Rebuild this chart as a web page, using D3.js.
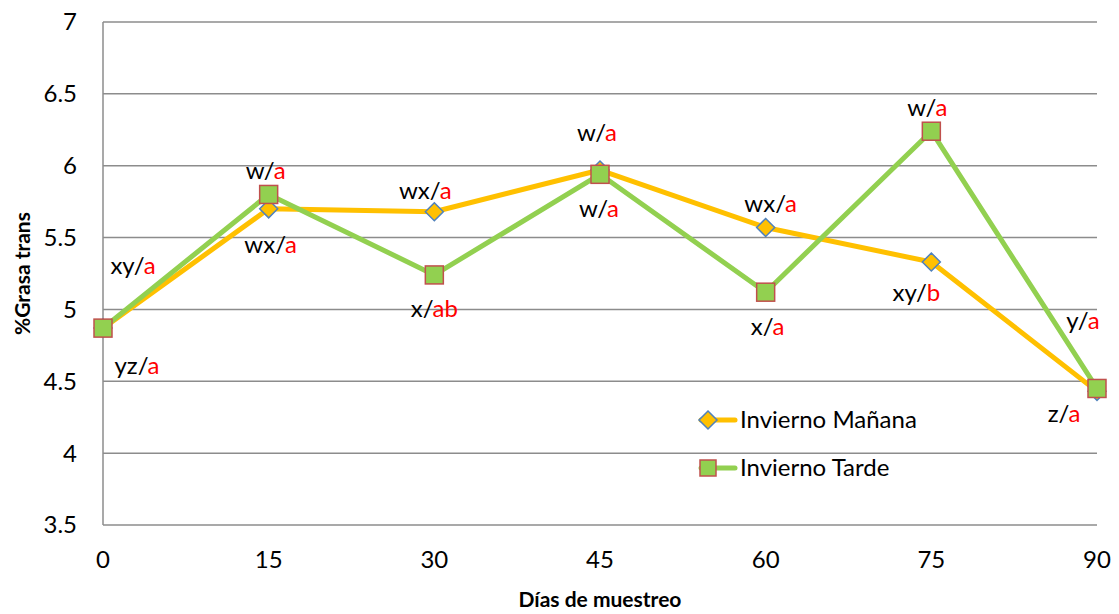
<!DOCTYPE html>
<html>
<head>
<meta charset="utf-8">
<title>Grasa trans</title>
<script src="https://cdnjs.cloudflare.com/ajax/libs/d3/7.8.5/d3.min.js"></script>
<style>
  body { margin: 0; background: #fff; }
  text { font-family: Lato, "Open Sans", sans-serif; }
</style>
</head>
<body>
<script>
// data
var days = [0, 15, 30, 45, 60, 75, 90];
var manana = [4.87, 5.70, 5.68, 5.97, 5.57, 5.33, 4.43];
var tarde = [4.87, 5.80, 5.24, 5.94, 5.12, 6.24, 4.45];
var yTicks = [3.5, 4, 4.5, 5, 5.5, 6, 6.5, 7];
var seriesNames = ["Invierno Mañana", "Invierno Tarde"];

// letters: [black part, red part]
var mananaLabels = [["xy/", "a"], ["wx/", "a"], ["wx/", "a"], ["w/", "a"], ["wx/", "a"], ["xy/", "b"], ["z/", "a"]];
var tardeLabels = [["yz/", "a"], ["w/", "a"], ["x/", "ab"], ["w/", "a"], ["x/", "a"], ["w/", "a"], ["y/", "a"]];
// nudges of each label from its point
var mananaNudge = [[30, -63], [2, 36], [-9, -21], [-3, -37], [5, -24], [-15, 31], [-33, 22]];
var tardeNudge = [[34, 37], [-3, -24], [0, 34], [-1, 34], [2, 34], [-4, -24], [-14, -68]];

var W = 1119, H = 614;
var plotL = 103, plotR = 1097, plotT = 22, plotB = 525;
var fs = 24;

var svg = d3.select("body").append("svg").attr("width", W).attr("height", H);

var x = d3.scaleLinear().domain([0, 90]).range([plotL, plotR]);
var y = d3.scaleLinear().domain([3.5, 7]).range([plotB, plotT]);

// gridlines
svg.append("g").selectAll("line").data(yTicks).enter().append("line")
  .attr("x1", plotL).attr("x2", plotR)
  .attr("y1", function(d) { return y(d); }).attr("y2", function(d) { return y(d); })
  .attr("stroke", "#8c8c8c").attr("stroke-width", 1.5);

svg.append("line").attr("x1", plotL).attr("x2", plotL).attr("y1", plotT).attr("y2", plotB)
  .attr("stroke", "#8c8c8c").attr("stroke-width", 1.5);

// tick labels
svg.append("g").selectAll("text").data(yTicks).enter().append("text")
  .attr("x", 77).attr("y", function(d) { return y(d); })
  .attr("dy", "0.35em").attr("text-anchor", "end")
  .attr("font-size", fs).attr("fill", "#000")
  .text(function(d) { return d; });

svg.append("g").selectAll("text").data(days).enter().append("text")
  .attr("x", function(d) { return x(d); }).attr("y", 568)
  .attr("text-anchor", "middle").attr("font-size", fs).attr("fill", "#000")
  .text(function(d) { return d; });

// axis titles
svg.append("text").attr("transform", "translate(30," + ((plotT + plotB) / 2) + ") rotate(-90)")
  .attr("text-anchor", "middle").attr("font-size", 21).attr("font-weight", "bold")
  .text("%Grasa trans");
svg.append("text").attr("x", 600).attr("y", 607)
  .attr("text-anchor", "middle").attr("font-size", 21).attr("font-weight", "bold")
  .text("Días de muestreo");

var line = d3.line()
  .x(function(d, i) { return x(days[i]); })
  .y(function(d) { return y(d); });

var orange = "#FFC000", green = "#92D050";

svg.append("path").datum(manana).attr("d", line)
  .attr("fill", "none").attr("stroke", orange).attr("stroke-width", 5).attr("stroke-linejoin", "round");
svg.append("path").datum(tarde).attr("d", line)
  .attr("fill", "none").attr("stroke", green).attr("stroke-width", 5).attr("stroke-linejoin", "round");

var diamond = "M0,-9L9,0L0,9L-9,0Z";

svg.append("g").selectAll("path").data(manana).enter().append("path")
  .attr("d", diamond)
  .attr("transform", function(d, i) { return "translate(" + x(days[i]) + "," + y(d) + ")"; })
  .attr("fill", orange).attr("stroke", "#4F81BD").attr("stroke-width", 1.5);

svg.append("g").selectAll("rect").data(tarde).enter().append("rect")
  .attr("x", function(d, i) { return x(days[i]) - 9; })
  .attr("y", function(d) { return y(d) - 9; })
  .attr("width", 18).attr("height", 18)
  .attr("fill", green).attr("stroke", "#C0504D").attr("stroke-width", 1.5);

// letter labels
function addLabels(vals, labels, nudge) {
  var t = svg.append("g").selectAll("text").data(vals).enter().append("text")
    .attr("x", function(d, i) { return x(days[i]) + nudge[i][0]; })
    .attr("y", function(d, i) { return y(d) + nudge[i][1]; })
    .attr("dy", "0.35em").attr("text-anchor", "middle").attr("font-size", fs);
  t.append("tspan").attr("fill", "#000").text(function(d, i) { return labels[i][0]; });
  t.append("tspan").attr("fill", "#FF0000").text(function(d, i) { return labels[i][1]; });
}
addLabels(manana, mananaLabels, mananaNudge);
addLabels(tarde, tardeLabels, tardeNudge);

// legend
var leg = svg.append("g");
var legY = [420, 468];
leg.append("line").attr("x1", 701).attr("x2", 735).attr("y1", legY[0]).attr("y2", legY[0])
  .attr("stroke", orange).attr("stroke-width", 5).attr("stroke-linecap", "round");
leg.append("path").attr("d", diamond).attr("transform", "translate(708," + legY[0] + ")")
  .attr("fill", orange).attr("stroke", "#4F81BD").attr("stroke-width", 1.5);
leg.append("line").attr("x1", 701).attr("x2", 735).attr("y1", legY[1]).attr("y2", legY[1])
  .attr("stroke", green).attr("stroke-width", 5).attr("stroke-linecap", "round");
leg.append("rect").attr("x", 700).attr("y", legY[1] - 8).attr("width", 16).attr("height", 16)
  .attr("fill", green).attr("stroke", "#C0504D").attr("stroke-width", 1.5);
leg.selectAll("text").data(seriesNames).enter().append("text")
  .attr("x", 740).attr("y", function(d, i) { return legY[i]; })
  .attr("dy", "0.35em").attr("font-size", fs).attr("fill", "#000")
  .text(function(d) { return d; });
</script>
</body>
</html>
